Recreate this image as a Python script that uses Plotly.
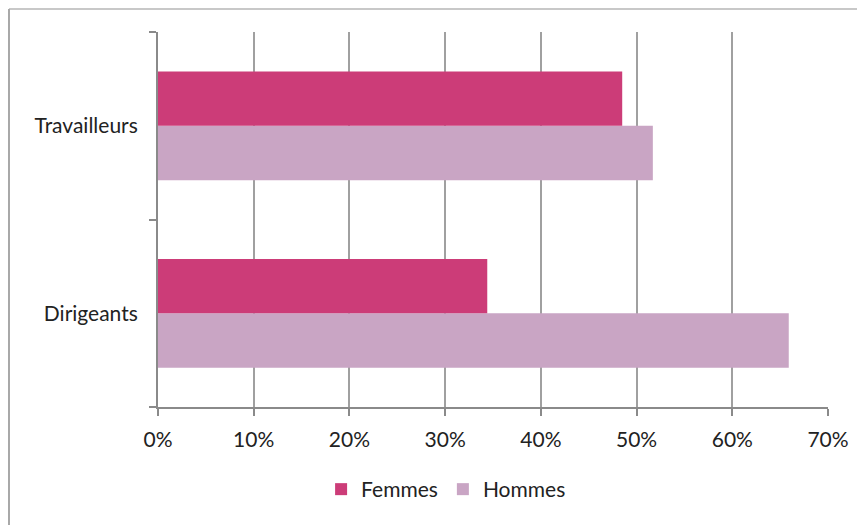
import plotly.graph_objects as go

categories = ["Dirigeants", "Travailleurs"]
femmes = [34.4, 48.5]
hommes = [65.9, 51.7]
x_ticks = [0, 10, 20, 30, 40, 50, 60, 70]
x_labels = [f"{v}%" for v in x_ticks]

FONT = "Lato, 'Open Sans', sans-serif"

fig = go.Figure()
# hommes first so that femmes sits on top inside each group
fig.add_trace(go.Bar(y=categories, x=hommes, name="Hommes", orientation="h",
                     marker=dict(color="#c9a5c4", line=dict(width=0)), legendrank=2))
fig.add_trace(go.Bar(y=categories, x=femmes, name="Femmes", orientation="h",
                     marker=dict(color="#cc3c78", line=dict(width=0)), legendrank=1))

# page body has an 8px margin, so the figure is a bit smaller than the window
fig.update_layout(
    width=857, height=517,
    margin=dict(l=150, r=37, t=24, b=118),
    plot_bgcolor="white", paper_bgcolor="white",
    barmode="group", bargap=0.42, bargroupgap=0,
    font=dict(family=FONT, size=21, color="#222"),
    showlegend=True,
    legend=dict(orientation="h", x=0.43, xanchor="center", y=-0.22, yanchor="middle",
                font=dict(size=21), itemwidth=30, traceorder="normal"),
    shapes=[
        dict(type="line", xref="paper", yref="paper", x0=-0.2224, x1=1.06, y0=1.0613, y1=1.0613,
             line=dict(color="#c8c8c8", width=2)),
        dict(type="line", xref="paper", yref="paper", x0=-0.2224, x1=-0.2224, y0=1.0613, y1=-0.32,
             line=dict(color="#a8a8a8", width=2)),
    ],
)

fig.update_xaxes(range=[0, 70], tickvals=x_ticks, ticktext=x_labels,
                 showgrid=True, gridcolor="#a0a0a0", gridwidth=2,
                 showline=True, linecolor="#8a8a8a", linewidth=2,
                 ticks="outside", ticklen=7, tickcolor="#8a8a8a", tickwidth=2,
                 zeroline=False, tickfont=dict(size=21), ticklabelstandoff=6)
fig.update_yaxes(type="category", categoryorder="array", categoryarray=categories,
                 tickson="boundaries", ticks="outside", ticklen=7, tickcolor="#8a8a8a", tickwidth=2,
                 showline=True, linecolor="#8a8a8a", linewidth=2, showgrid=False,
                 tickfont=dict(size=21), ticklabelstandoff=14)

fig.write_html("out.html")
